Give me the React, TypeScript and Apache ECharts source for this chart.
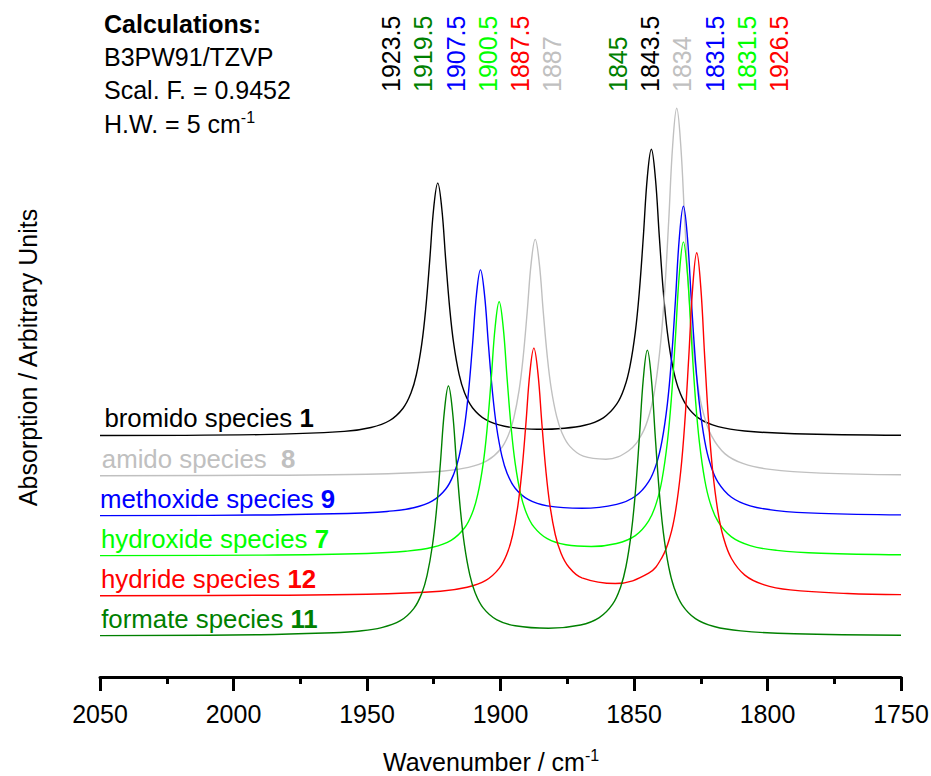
import React, { useEffect, useRef } from 'react';
import * as echarts from 'echarts';

const FONT = "'Liberation Sans', Arial, Helvetica, sans-serif";

// x axis (wavenumber, cm-1)
const xMin = 1750;
const xMax = 2050;
const xInterval = 50;

// spectra: [wavenumber, absorption (arbitrary, stacked)]
const bromido: [number, number][] = [
  [2050, 241.5], [1990, 242.4], [1958.5, 245.6], [1948.5, 249.5], [1941.5, 256.5], [1936.5, 268.8],
  [1933.5, 284.2], [1931.5, 302.5], [1929.5, 332.9], [1928, 368.3], [1926.5, 416.9], [1925, 469.5],
  [1923.5, 493.9], [1922, 468.7], [1920.5, 416.4], [1919, 368], [1917.5, 332.8], [1915.5, 302.6],
  [1913.5, 284.5], [1910.5, 269.3], [1905.5, 257.3], [1898.5, 250.8], [1888.5, 247.9], [1883.5, 247.7],
  [1878.5, 248.2], [1868.5, 251.7], [1861.5, 259.2], [1856.5, 272.8], [1853.5, 290.2], [1851.5, 310.9],
  [1849.5, 345.2], [1848, 385.4], [1846.5, 440.5], [1845, 500.1], [1843.5, 527.8], [1842, 499.2],
  [1840.5, 439.7], [1839, 384.7], [1837.5, 344.7], [1835.5, 310.3], [1833.5, 289.6], [1830.5, 272.2],
  [1825.5, 258.3], [1818.5, 250.4], [1808.5, 246], [1790, 243.3], [1750, 241.8],
];

const amido: [number, number][] = [
  [2050, 201.3], [1990, 201.7], [1950, 202.7], [1922, 205.8], [1912, 209.6], [1905, 216.3],
  [1900, 227.7], [1897, 242.2], [1895, 259.2], [1893, 287.3], [1891.5, 320.2], [1890, 365.3],
  [1888.5, 414.1], [1887, 437.6], [1885.5, 414.4], [1884, 365.8], [1882.5, 321.1], [1881, 288.5],
  [1879, 260.8], [1877, 244.3], [1874, 230.6], [1869, 220.8], [1860.5, 217.8], [1852, 226.3],
  [1847, 243.1], [1844, 265], [1842, 291.1], [1840, 334.9], [1838.5, 386], [1837, 456.2],
  [1835.5, 532.2], [1834, 568.7], [1832.5, 532], [1831, 455.8], [1829.5, 385.4], [1828, 334.2],
  [1826, 290.1], [1824, 263.7], [1821, 241.3], [1816, 223.4], [1809, 213.3], [1799, 207.6],
  [1780, 203.9], [1750, 202.3],
];

const methoxide: [number, number][] = [
  [2050, 161.4], [1990, 162], [1950, 164.2], [1942.5, 165.5], [1932.5, 169.3], [1925.5, 176.1],
  [1920.5, 188], [1917.5, 203], [1915.5, 220.7], [1913.5, 250.1], [1912, 284.5], [1910.5, 331.5],
  [1909, 382.5], [1907.5, 407.1], [1906, 382.6], [1904.5, 331.7], [1903, 284.7], [1901.5, 250.5],
  [1899.5, 221.2], [1897.5, 203.6], [1894.5, 188.8], [1889.5, 177.3], [1882.5, 171.1], [1869.5, 168.7],
  [1856.5, 172.6], [1849.5, 180.7], [1844.5, 195.3], [1841.5, 214], [1839.5, 236.3], [1837.5, 273.2],
  [1836, 316.5], [1834.5, 375.7], [1833, 440], [1831.5, 470.9], [1830, 439.9], [1828.5, 375.6],
  [1827, 316.3], [1825.5, 272.9], [1823.5, 235.9], [1821.5, 213.6], [1818.5, 194.7], [1813.5, 179.8],
  [1806.5, 171.2], [1796.5, 166.4], [1780, 163.6], [1750, 162.1],
];

const hydroxide: [number, number][] = [
  [2050, 121.4], [1990, 121.9], [1950, 123.5], [1935.5, 125.7], [1925.5, 129.7], [1918.5, 136.7],
  [1913.5, 149], [1910.5, 164.5], [1908.5, 182.8], [1906.5, 213.2], [1905, 248.7], [1903.5, 297.3],
  [1902, 350], [1900.5, 375.3], [1899, 350.1], [1897.5, 297.6], [1896, 249], [1894.5, 213.7],
  [1892.5, 183.4], [1890.5, 165.3], [1887.5, 150.1], [1882.5, 138.3], [1875.5, 132.2], [1866, 130.5],
  [1856.5, 133.5], [1849.5, 141.4], [1844.5, 156.1], [1841.5, 175.1], [1839.5, 197.5], [1837.5, 235],
  [1836, 278.7], [1834.5, 338.8], [1833, 403.8], [1831.5, 435.1], [1830, 403.7], [1828.5, 338.6],
  [1827, 278.4], [1825.5, 234.6], [1823.5, 197], [1821.5, 174.4], [1818.5, 155.3], [1813.5, 140.1],
  [1806.5, 131.4], [1796.5, 126.6], [1780, 123.7], [1750, 122.2],
];

const hydride: [number, number][] = [
  [2050, 81.3], [1990, 81.7], [1950, 82.7], [1922.5, 85.8], [1912.5, 89.7], [1905.5, 96.6],
  [1900.5, 108.6], [1897.5, 123.7], [1895.5, 141.5], [1893.5, 171.1], [1892, 205.6], [1890.5, 252.9],
  [1889, 304.2], [1887.5, 328.9], [1886, 304.4], [1884.5, 253.3], [1883, 206.2], [1881.5, 171.9],
  [1879.5, 142.5], [1877.5, 124.9], [1874.5, 110.3], [1869.5, 99.2], [1857, 93.5], [1844.5, 103.8],
  [1839.5, 119.7], [1836.5, 140.4], [1834.5, 164.9], [1832.5, 205.7], [1831, 253.6], [1829.5, 319.2],
  [1828, 390.2], [1826.5, 424.3], [1825, 390.1], [1823.5, 318.9], [1822, 253.2], [1820.5, 205.2],
  [1818.5, 164.1], [1816.5, 139.5], [1813.5, 118.5], [1808.5, 101.9], [1801.5, 92.4], [1791.5, 87.1],
  [1770, 83.5], [1750, 82.4],
];

const formate: [number, number][] = [
  [2050, 41.4], [1990, 42.3], [1960, 44.5], [1954.5, 45.5], [1944.5, 49.4], [1937.5, 56.3],
  [1932.5, 68.4], [1929.5, 83.6], [1927.5, 101.7], [1925.5, 131.5], [1924, 166.4], [1922.5, 214.3],
  [1921, 266.1], [1919.5, 291], [1918, 266.2], [1916.5, 214.4], [1915, 166.7], [1913.5, 131.8],
  [1911.5, 102.1], [1909.5, 84.2], [1906.5, 69.1], [1901.5, 57.4], [1894.5, 51.2], [1882, 48.7],
  [1870, 52], [1863, 59.4], [1858, 72.8], [1855, 90.1], [1853, 110.5], [1851, 144.7],
  [1849.5, 184.5], [1848, 239.2], [1846.5, 298.5], [1845, 326.9], [1843.5, 298.4], [1842, 239],
  [1840.5, 184.3], [1839, 144.4], [1837, 110.1], [1835, 89.6], [1832, 72.2], [1827, 58.4],
  [1820, 50.5], [1810, 46.1], [1790, 43.2], [1750, 41.8],
];

const speciesNames = ['bromido species', 'amido species ', 'methoxide species', 'hydroxide species', 'hydride species', 'formate species'];
const speciesNumbers = ['1', '8', '9', '7', '12', '11'];
const speciesData = [bromido, amido, methoxide, hydroxide, hydride, formate];

// calculated frequencies written above the spectra
const peakLabels = ['1923.5', '1919.5', '1907.5', '1900.5', '1887.5', '1887', '1845', '1843.5', '1834', '1831.5', '1831.5', '1926.5'];
const peakLabelSpecies = [0, 5, 2, 3, 4, 1, 5, 0, 1, 2, 3, 4];

const calcLines = ['B3PW91/TZVP', 'Scal. F. = 0.9452'];

// styles / layout
const COLORS = ['#000000', '#c0c0c0', '#0000ff', '#00ff00', '#ff0000', '#008000'];
const peakLabelX = [391, 423.3, 455.7, 488.3, 520.3, 552.3, 618, 650, 682.3, 715, 747.3, 779.3];
const speciesLabelPos = [[104.4, 418], [101.8, 459], [100, 499], [101, 538.7], [101, 579], [101.2, 619]];

function buildOption(): echarts.EChartsOption {
  const graphic: any[] = [];

  graphic.push({
    type: 'text', x: 104, y: 24,
    style: { text: 'Calculations:', fill: '#000', fontSize: 25, fontWeight: 'bold', fontFamily: FONT, align: 'left', verticalAlign: 'middle' },
  });
  calcLines.forEach((t, i) => {
    graphic.push({
      type: 'text', x: 104, y: 57 + i * 33,
      style: { text: t, fill: '#000', fontSize: 25, fontFamily: FONT, align: 'left', verticalAlign: 'middle' },
    });
  });
  graphic.push({
    type: 'text', x: 104, y: 124,
    style: {
      text: '{m|H.W. = 5 cm}{s|-1}', align: 'left', verticalAlign: 'middle',
      rich: {
        m: { fill: '#000', fontSize: 25, fontFamily: FONT, lineHeight: 30 },
        s: { fill: '#000', fontSize: 16, fontFamily: FONT, lineHeight: 19, verticalAlign: 'top' },
      },
    },
  });

  peakLabels.forEach((t, i) => {
    graphic.push({
      type: 'text', x: peakLabelX[i], y: 92, rotation: Math.PI / 2,
      style: { text: t, fill: COLORS[peakLabelSpecies[i]], fontSize: 25, fontFamily: FONT, align: 'left', verticalAlign: 'middle' },
    });
  });

  speciesNames.forEach((name, i) => {
    graphic.push({
      type: 'text', x: speciesLabelPos[i][0], y: speciesLabelPos[i][1],
      style: {
        text: `{n|${name} }{b|${speciesNumbers[i]}}`, align: 'left', verticalAlign: 'middle',
        rich: {
          n: { fill: COLORS[i], fontSize: 25.8, fontFamily: FONT },
          b: { fill: COLORS[i], fontSize: 25.8, fontFamily: FONT, fontWeight: 'bold' },
        },
      },
    });
  });

  graphic.push({
    type: 'text', x: 383, y: 762,
    style: {
      text: '{m|Wavenumber / cm}{s|-1}', align: 'left', verticalAlign: 'middle',
      rich: {
        m: { fill: '#000', fontSize: 25, fontFamily: FONT, lineHeight: 30 },
        s: { fill: '#000', fontSize: 16, fontFamily: FONT, lineHeight: 13, verticalAlign: 'top' },
      },
    },
  });

  graphic.push({
    type: 'text', x: 28, y: 357.5, rotation: Math.PI / 2,
    style: { text: 'Absorption / Arbitrary Units', fill: '#000', fontSize: 25, fontFamily: FONT, align: 'center', verticalAlign: 'middle' },
  });

  return {
    animation: false,
    backgroundColor: '#ffffff',
    grid: { left: 100, right: 30, top: 77, bottom: 99, containLabel: false, outerBoundsMode: 'none' },
    xAxis: {
      type: 'value',
      inverse: true,
      min: xMin,
      max: xMax,
      interval: xInterval,
      axisLine: { show: true, lineStyle: { color: '#000', width: 3 } },
      axisTick: { show: true, length: 14, lineStyle: { color: '#000', width: 3 } },
      minorTick: { show: true, splitNumber: 2, length: 7, lineStyle: { color: '#000', width: 3 } },
      axisLabel: {
        color: '#000', fontSize: 25, fontFamily: FONT, margin: 24,
        formatter: (v: number) => String(v),
      },
      splitLine: { show: false },
      minorSplitLine: { show: false },
    },
    yAxis: {
      type: 'value',
      min: 0,
      max: 600,
      show: false,
    },
    series: speciesData.map((d, i) => ({
      type: 'line',
      name: speciesNames[i].trim() + ' ' + speciesNumbers[i],
      data: d,
      showSymbol: false,
      symbol: 'none',
      smooth: 0.4,
      silent: true,
      lineStyle: { color: COLORS[i], width: 1.4 },
      z: 2,
    })),
    graphic,
  } as any;
}

export default function App() {
  const ref = useRef<HTMLDivElement>(null);
  useEffect(() => {
    document.body.style.margin = '0';
    if (!ref.current) return;
    const chart = echarts.init(ref.current, null, { renderer: 'svg' });
    chart.setOption(buildOption());
    return () => {
      chart.dispose();
    };
  }, []);
  return <div ref={ref} style={{ width: 931, height: 776, background: '#fff' }} />;
}
